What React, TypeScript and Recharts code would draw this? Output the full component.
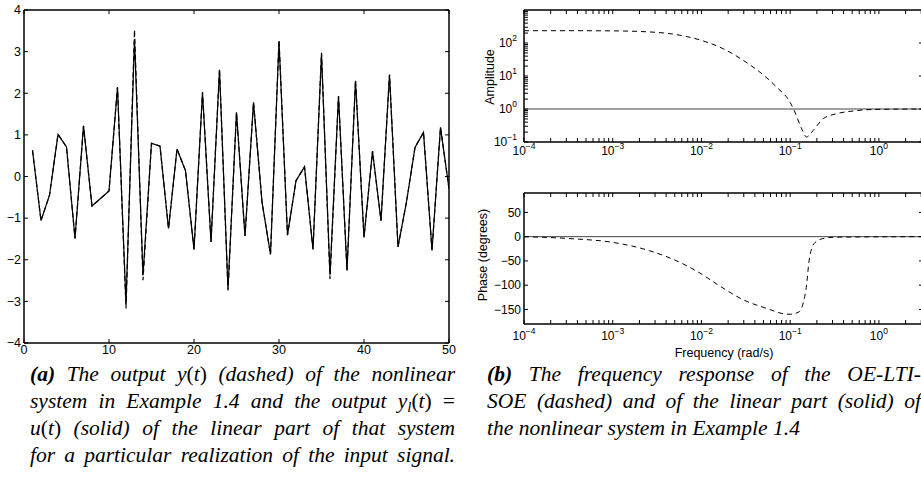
import React from 'react';
import { LineChart, Line, XAxis, YAxis } from 'recharts';

// ---------- Data: time series (left panel) ----------
const timeSteps = [1, 2, 3, 4, 5, 6, 7, 8, 9, 10, 11, 12, 13, 14, 15, 16, 17, 18, 19, 20, 21, 22, 23, 24, 25, 26, 27, 28, 29, 30, 31, 32, 33, 34, 35, 36, 37, 38, 39, 40, 41, 42, 43, 44, 45, 46, 47, 48, 49, 50];
const linearOutput = [0.63, -1.06, -0.45, 1.01, 0.71, -1.49, 1.22, -0.71, -0.53, -0.35, 2.14, -3.06, 3.3, -2.36, 0.8, 0.73, -1.25, 0.66, 0.14, -1.75, 2.02, -1.57, 2.56, -2.7, 1.54, -1.43, 1.78, -0.61, -1.87, 3.24, -1.41, -0.1, 0.23, -1.75, 2.94, -2.36, 1.93, -2.25, 2.3, -1.46, 0.61, -1.06, 2.44, -1.69, -0.61, 0.7, 1.06, -1.77, 1.18, -0.29];
const nonlinearOutput = [0.63, -1.06, -0.45, 1.01, 0.71, -1.49, 1.22, -0.71, -0.53, -0.35, 2.15, -3.17, 3.52, -2.49, 0.8, 0.73, -1.25, 0.66, 0.14, -1.75, 2.03, -1.57, 2.58, -2.74, 1.54, -1.43, 1.78, -0.61, -1.87, 3.28, -1.41, -0.1, 0.23, -1.75, 2.97, -2.46, 1.93, -2.26, 2.31, -1.46, 0.61, -1.06, 2.45, -1.69, -0.61, 0.7, 1.06, -1.77, 1.18, -0.29];
const timeTicks = [0, 10, 20, 30, 40, 50];
const outputTicks = [-4, -3, -2, -1, 0, 1, 2, 3, 4];

// ---------- Data: frequency response (right panels) ----------
const ampFreq = [0.0001, 0.0003, 0.001, 0.0031, 0.0052, 0.0105, 0.0176, 0.0295, 0.0457, 0.0703, 0.0993, 0.113, 0.135, 0.153, 0.182, 0.236, 0.333, 0.513, 0.794, 1.5, 3.1416];
const ampOE = [236, 236, 233, 210, 180, 115, 67, 30, 13, 4.6, 1.63, 0.81, 0.25, 0.142, 0.226, 0.51, 0.72, 0.87, 0.96, 0.99, 1.0];
const phaseFreq = [0.0001, 0.00033, 0.00102, 0.00219, 0.00442, 0.00883, 0.0162, 0.0295, 0.0589, 0.0794, 0.1, 0.126, 0.141, 0.153, 0.162, 0.174, 0.191, 0.234, 0.331, 3.1416];
const phaseOE = [0, -4, -12, -25, -44, -71, -102, -130, -150, -158, -160, -155, -135, -100, -55, -25, -12, -4, -1, 0];
const linFreq = [0.0001, 3.1416];
const linAmp = [1, 1];
const linPhase = [0, 0];

const freqTicks = [0.0001, 0.0002, 0.0003, 0.0004, 0.0005, 0.0006, 0.0007, 0.0008, 0.0009, 0.001, 0.002, 0.003, 0.004, 0.005, 0.006, 0.007, 0.008, 0.009, 0.01, 0.02, 0.03, 0.04, 0.05, 0.06, 0.07, 0.08, 0.09, 0.1, 0.2, 0.3, 0.4, 0.5, 0.6, 0.7, 0.8, 0.9, 1, 2, 3];
const freqLabelTicks = [0.0001, 0.001, 0.01, 0.1, 1];
const ampTicks = [0.1, 0.2, 0.3, 0.4, 0.5, 0.6, 0.7, 0.8, 0.9, 1, 2, 3, 4, 5, 6, 7, 8, 9, 10, 20, 30, 40, 50, 60, 70, 80, 90, 100, 200, 300, 400, 500, 600, 700, 800, 900];
const ampLabelTicks = [0.1, 1, 10, 100];
const phaseTicks = [-150, -100, -50, 0, 50];

// ---------- Tables built from the arrays ----------
const timeData = timeSteps.map((t, i) => ({ t, u: linearOutput[i], y: nonlinearOutput[i] }));
const ampData = ampFreq.map((f, i) => ({ f, a: ampOE[i] }));
const ampLinData = linFreq.map((f, i) => ({ f, a: linAmp[i] }));
const phaseData = phaseFreq.map((f, i) => ({ f, p: phaseOE[i] }));
const phaseLinData = linFreq.map((f, i) => ({ f, p: linPhase[i] }));

// ---------- Styling helpers ----------
const SANS = '"Liberation Sans", Arial, Helvetica, sans-serif';
const SERIF = '"Liberation Serif", "Times New Roman", Times, serif';
const AXIS = { stroke: '#000', strokeWidth: 1.5 };
const LEN = 4;
const MINUS = '\u2212';

const fmtNum = (v: number) => (v < 0 ? MINUS + String(-v) : String(v));
const inSet = (v: number, set: number[]) => set.some((s) => Math.abs(s - v) / Math.abs(s) < 1e-6);

const pow10 = (v: number, sup: number) => {
  const e = Math.round(Math.log10(v));
  return [
    <tspan key="b">10</tspan>,
    <tspan key="e" dy={-sup} fontSize={8.5}>{e < 0 ? MINUS + String(-e) : String(e)}</tspan>,
  ];
};

type TickOpts = {
  labels?: number[] | null;
  render?: (v: number) => React.ReactNode;
  offset?: number;
  fontSize?: number;
};

const bottomTick = (o: TickOpts) => (props: any) => {
  const { x, y, payload } = props;
  const v = payload.value;
  const show = o.render && (!o.labels || inSet(v, o.labels));
  return (
    <g>
      <line x1={x} y1={y} x2={x} y2={y - LEN} stroke="#000" strokeWidth={1} />
      {show ? (
        <text x={x} y={y + (o.offset || 11)} textAnchor="middle" fontFamily={SANS} fontSize={o.fontSize || 12} fill="#000">
          {o.render!(v)}
        </text>
      ) : null}
    </g>
  );
};

const leftTick = (o: TickOpts) => (props: any) => {
  const { x, y, payload } = props;
  const v = payload.value;
  const show = o.render && (!o.labels || inSet(v, o.labels));
  return (
    <g>
      <line x1={x} y1={y} x2={x + LEN} y2={y} stroke="#000" strokeWidth={1} />
      {show ? (
        <text x={x - (o.offset || 3)} y={y + 4.3} textAnchor="end" fontFamily={SANS} fontSize={o.fontSize || 12} fill="#000">
          {o.render!(v)}
        </text>
      ) : null}
    </g>
  );
};

const topTick = (props: any) => {
  const { x, y } = props;
  return <line x1={x} y1={y} x2={x} y2={y + LEN} stroke="#000" strokeWidth={1} />;
};

const rightTick = (props: any) => {
  const { x, y } = props;
  return <line x1={x} y1={y} x2={x - LEN} y2={y} stroke="#000" strokeWidth={1} />;
};

const TimeChart = () => (
  <LineChart width={460} height={365} data={timeData} margin={{ top: 9, right: 10, bottom: 0, left: 0 }}>
    <XAxis dataKey="t" type="number" domain={[0, 50]} ticks={timeTicks} interval={0} height={22} tickSize={0} tickMargin={0}
      tickLine={false} axisLine={AXIS} allowDataOverflow
      tick={bottomTick({ render: (v) => fmtNum(v), offset: 11, fontSize: 12.5 })} />
    <XAxis xAxisId="top" dataKey="t" type="number" orientation="top" domain={[0, 50]} ticks={timeTicks} interval={0} height={1}
      tickSize={0} tickMargin={0} tickLine={false} axisLine={AXIS} allowDataOverflow tick={topTick} />
    <YAxis type="number" domain={[-4, 4]} ticks={outputTicks} interval={0} width={24} tickSize={0} tickMargin={0}
      tickLine={false} axisLine={AXIS} allowDataOverflow
      tick={leftTick({ render: (v) => fmtNum(v), offset: 3, fontSize: 12.5 })} />
    <YAxis yAxisId="right" type="number" orientation="right" domain={[-4, 4]} ticks={outputTicks} interval={0} width={1}
      tickSize={0} tickMargin={0} tickLine={false} axisLine={AXIS} allowDataOverflow tick={rightTick} />
    <Line xAxisId="top" yAxisId="right" dataKey="u" stroke="none" dot={false} isAnimationActive={false} />
    <Line dataKey="y" type="linear" stroke="#000" strokeWidth={1.2} strokeDasharray="5 3" dot={false} isAnimationActive={false} />
    <Line dataKey="u" type="linear" stroke="#000" strokeWidth={1.2} dot={false} isAnimationActive={false} />
  </LineChart>
);

const AmpChart = () => (
  <LineChart width={460} height={170} margin={{ top: 9, right: 6, bottom: 0, left: 0 }}>
    <XAxis dataKey="f" type="number" scale="log" domain={[0.0001, 3.1416]} ticks={freqTicks} interval={0} height={28}
      tickSize={0} tickMargin={0} tickLine={false} axisLine={AXIS} allowDataOverflow
      tick={bottomTick({ labels: freqLabelTicks, render: (v) => pow10(v, 6), offset: 13, fontSize: 12 })} />
    <XAxis xAxisId="top" dataKey="f" type="number" scale="log" orientation="top" domain={[0.0001, 3.1416]} ticks={freqTicks}
      interval={0} height={1} tickSize={0} tickMargin={0} tickLine={false} axisLine={AXIS} allowDataOverflow tick={topTick} />
    <YAxis type="number" scale="log" domain={[0.1, 1000]} ticks={ampTicks} interval={0} width={54} tickSize={0} tickMargin={0}
      tickLine={false} axisLine={AXIS} allowDataOverflow
      tick={leftTick({ labels: ampLabelTicks, render: (v) => pow10(v, 6), offset: 7, fontSize: 12 })}
      label={{
        content: () => (
          <text x={20} y={77} transform="rotate(-90 20 77)" textAnchor="middle" dominantBaseline="central"
            fontFamily={SANS} fontSize={12.5} fill="#000">Amplitude</text>
        ),
      }} />
    <YAxis yAxisId="right" type="number" scale="log" orientation="right" domain={[0.1, 1000]} ticks={ampLabelTicks} interval={0}
      width={1} tickSize={0} tickMargin={0} tickLine={false} axisLine={AXIS} allowDataOverflow tick={rightTick} />
    <Line xAxisId="top" yAxisId="right" data={ampLinData} dataKey="a" stroke="none" dot={false} isAnimationActive={false} />
    <Line data={ampLinData} dataKey="a" type="linear" stroke="#444" strokeWidth={1} dot={false} isAnimationActive={false} />
    <Line data={ampData} dataKey="a" type="monotone" stroke="#000" strokeWidth={1} strokeDasharray="5 4" dot={false} isAnimationActive={false} />
  </LineChart>
);

const PhaseChart = () => (
  <LineChart width={460} height={190} margin={{ top: 12, right: 6, bottom: 0, left: 0 }}>
    <XAxis dataKey="f" type="number" scale="log" domain={[0.0001, 3.1416]} ticks={freqTicks} interval={0} height={46}
      tickSize={0} tickMargin={0} tickLine={false} axisLine={AXIS} allowDataOverflow
      tick={bottomTick({ labels: freqLabelTicks, render: (v) => pow10(v, 6), offset: 16, fontSize: 12 })}
      label={{
        content: () => (
          <text x={254} y={177} textAnchor="middle" fontFamily={SANS} fontSize={12.5} fill="#000">Frequency (rad/s)</text>
        ),
      }} />
    <XAxis xAxisId="top" dataKey="f" type="number" scale="log" orientation="top" domain={[0.0001, 3.1416]} ticks={freqTicks}
      interval={0} height={1} tickSize={0} tickMargin={0} tickLine={false} axisLine={AXIS} allowDataOverflow tick={topTick} />
    <YAxis type="number" domain={[-180, 90]} ticks={phaseTicks} interval={0} width={54} tickSize={0} tickMargin={0}
      tickLine={false} axisLine={AXIS} allowDataOverflow
      tick={leftTick({ render: (v) => fmtNum(v), offset: 3, fontSize: 12 })}
      label={{
        content: () => (
          <text x={13} y={75} transform="rotate(-90 13 75)" textAnchor="middle" dominantBaseline="central"
            fontFamily={SANS} fontSize={12.5} fill="#000">Phase (degrees)</text>
        ),
      }} />
    <YAxis yAxisId="right" type="number" orientation="right" domain={[-180, 90]} ticks={phaseTicks} interval={0}
      width={1} tickSize={0} tickMargin={0} tickLine={false} axisLine={AXIS} allowDataOverflow tick={rightTick} />
    <Line xAxisId="top" yAxisId="right" data={phaseLinData} dataKey="p" stroke="none" dot={false} isAnimationActive={false} />
    <Line data={phaseLinData} dataKey="p" type="linear" stroke="#444" strokeWidth={1} dot={false} isAnimationActive={false} />
    <Line data={phaseData} dataKey="p" type="monotone" stroke="#000" strokeWidth={1} strokeDasharray="5 4" dot={false} isAnimationActive={false} />
  </LineChart>
);

const lineFull: React.CSSProperties = { textAlign: 'justify', textAlignLast: 'justify' as any, height: 27 };
const lineLast: React.CSSProperties = { textAlign: 'left', height: 27 };
const up: React.CSSProperties = { fontStyle: 'normal' };
const sub: React.CSSProperties = { fontSize: '0.7em', verticalAlign: '-0.25em', lineHeight: 0 };

const captionBase: React.CSSProperties = {
  position: 'absolute',
  top: 361,
  fontFamily: SERIF,
  fontStyle: 'italic',
  fontSize: 21.5,
  lineHeight: '27px',
  color: '#000',
};

export default function App() {
  return (
    <div style={{ position: 'fixed', left: 0, top: 0, width: 921, height: 485, overflow: 'hidden', background: '#fff' }}>
      <div style={{ position: 'absolute', left: 0, top: 0 }}>
        <TimeChart />
      </div>
      <div style={{ position: 'absolute', left: 470, top: 0 }}>
        <AmpChart />
      </div>
      <div style={{ position: 'absolute', left: 470, top: 180 }}>
        <PhaseChart />
      </div>
      <div style={{ ...captionBase, left: 30, width: 425 }}>
        <div style={lineFull}>
          <b>(a)</b> The output <span style={up}><i>y</i>(<i>t</i>)</span> (dashed) of the nonlinear
        </div>
        <div style={lineFull}>
          system in Example 1.4 and the output <span style={up}><i>y</i><span style={sub}><i>l</i></span>(<i>t</i>) =</span>
        </div>
        <div style={lineFull}>
          <span style={up}><i>u</i>(<i>t</i>)</span> (solid) of the linear part of that system
        </div>
        <div style={lineFull}>for a particular realization of the input signal.</div>
      </div>
      <div style={{ ...captionBase, left: 487, width: 434 }}>
        <div style={lineFull}>
          <b>(b)</b> The frequency response of the OE-LTI-
        </div>
        <div style={lineFull}>SOE (dashed) and of the linear part (solid) of</div>
        <div style={lineLast}>the nonlinear system in Example 1.4</div>
      </div>
    </div>
  );
}
